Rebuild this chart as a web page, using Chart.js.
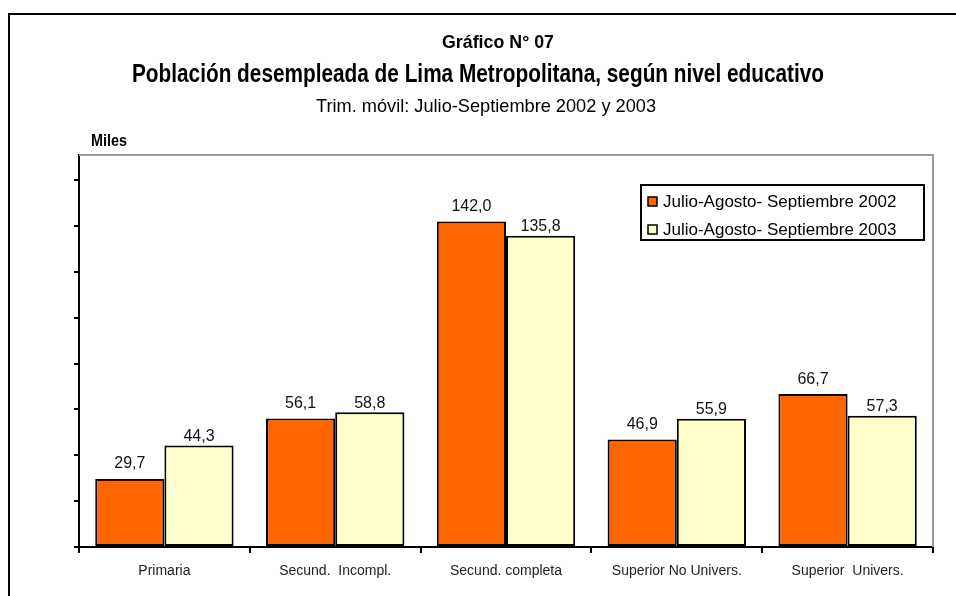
<!DOCTYPE html>
<html>
<head>
<meta charset="utf-8">
<script src="https://cdn.jsdelivr.net/npm/chart.js@4.4.0/dist/chart.umd.min.js"></script>
<style>
  html, body { margin: 0; padding: 0; background: #fff; }
  #wrap { width: 956px; height: 596px; position: relative; }
</style>
</head>
<body>
<div id="wrap"><canvas id="myChart" width="956" height="596"></canvas></div>
<script>
const categories = ["Primaria", "Secund.  Incompl.", "Secund. completa", "Superior No Univers.", "Superior  Univers."];
const values2002 = [29.7, 56.1, 142.0, 46.9, 66.7];
const values2003 = [44.3, 58.8, 135.8, 55.9, 57.3];
const seriesNames = ["Julio-Agosto- Septiembre 2002", "Julio-Agosto- Septiembre 2003"];
const yTicks = [0, 20, 40, 60, 80, 100, 120, 140, 160];

const arial = '"Liberation Sans", Arial, sans-serif';

// no Arial Narrow here, so squeeze Liberation Sans to the width it had
function narrowText(ctx, text, cx, baseline, font, width) {
  ctx.save();
  ctx.font = font;
  const w = ctx.measureText(text).width;
  ctx.translate(cx, baseline);
  ctx.scale(width / w, 1);
  ctx.textAlign = "center";
  ctx.textBaseline = "alphabetic";
  ctx.fillText(text, 0, 0);
  ctx.restore();
}

// frame, titles and plot border
const decorations = {
  id: "decorations",
  beforeDraw(chart) {
    const ctx = chart.ctx;
    ctx.save();
    ctx.strokeStyle = "#000";
    ctx.lineWidth = 2;
    ctx.beginPath();
    ctx.moveTo(9, 600);
    ctx.lineTo(9, 14);
    ctx.lineTo(960, 14);
    ctx.stroke();

    ctx.fillStyle = "#000";
    narrowText(ctx, "Gráfico N° 07", 498, 48, "bold 19px " + arial, 112);
    narrowText(ctx, "Población desempleada de Lima Metropolitana, según nivel educativo", 478, 82, "bold 25px " + arial, 692);
    narrowText(ctx, "Trim. móvil: Julio-Septiembre 2002 y 2003", 486, 112, "19px " + arial, 340);
    narrowText(ctx, "Miles", 109, 146, "bold 16px " + arial, 36);
    ctx.restore();
  },
  beforeDatasetsDraw(chart) {
    const { ctx, chartArea } = chart;
    ctx.save();
    ctx.strokeStyle = "#999";
    ctx.lineWidth = 2;
    ctx.beginPath();
    ctx.moveTo(chartArea.left, chartArea.top);
    ctx.lineTo(chartArea.right, chartArea.top);
    ctx.lineTo(chartArea.right, chartArea.bottom);
    ctx.stroke();
    ctx.restore();
  },
};

// value labels above bars, legend box
const labelOffsets = [15, 9];
const extras = {
  id: "extras",
  afterDatasetsDraw(chart) {
    const ctx = chart.ctx;
    ctx.save();
    ctx.fillStyle = "#111";
    ctx.font = "16px " + arial;
    ctx.textAlign = "center";
    ctx.textBaseline = "middle";
    chart.data.datasets.forEach((ds, i) => {
      chart.getDatasetMeta(i).data.forEach((bar, j) => {
        ctx.fillText(ds.data[j].toFixed(1).replace(".", ","), bar.x, bar.y - labelOffsets[i]);
      });
    });

    const ca = chart.chartArea;
    const x1 = ca.right - 292, x2 = ca.right - 9;
    const y1 = ca.top + 30, y2 = ca.top + 85;
    ctx.fillStyle = "#fff";
    ctx.fillRect(x1, y1, x2 - x1, y2 - y1);
    ctx.strokeStyle = "#000";
    ctx.lineWidth = 2;
    ctx.strokeRect(x1, y1, x2 - x1, y2 - y1);
    ctx.font = "17px " + arial;
    ctx.textAlign = "left";
    chart.data.datasets.forEach((ds, i) => {
      const cy = y1 + 17 + i * 28;
      ctx.fillStyle = ds.backgroundColor;
      ctx.fillRect(x1 + 7, cy - 5, 9, 9);
      ctx.lineWidth = 1.5;
      ctx.strokeRect(x1 + 7, cy - 5, 9, 9);
      ctx.fillStyle = "#000";
      ctx.fillText(ds.label, x1 + 22, cy);
    });
    ctx.restore();
  },
};

const ctx = document.getElementById("myChart").getContext("2d");
const myChart = new Chart(ctx, {
  type: "bar",
  data: {
    labels: categories,
    datasets: [
      {
        label: seriesNames[0],
        data: values2002,
        backgroundColor: "#FF6600",
        borderColor: "#000",
        borderWidth: 2,
        borderSkipped: false,
      },
      {
        label: seriesNames[1],
        data: values2003,
        backgroundColor: "#FFFFCC",
        borderColor: "#000",
        borderWidth: 2,
        borderSkipped: false,
      },
    ],
  },
  options: {
    responsive: false,
    animation: false,
    devicePixelRatio: 1,
    categoryPercentage: 0.81,
    barPercentage: 1.0,
    layout: { padding: { top: 155, right: 23, left: 0, bottom: 0 } },
    plugins: {
      legend: { display: false },
      title: { display: false },
      tooltip: { enabled: false },
    },
    scales: {
      x: {
        grid: { offset: true, drawOnChartArea: false, tickLength: 6, color: "#000", lineWidth: 2 },
        border: { color: "#000", width: 2 },
        ticks: { color: "#222", font: { family: arial, size: 14 }, padding: 10 },
        afterFit: (scale) => { scale.height = 49; },
      },
      y: {
        min: 0,
        max: 171,
        grid: { drawOnChartArea: false, tickLength: 5, color: "#000", lineWidth: 2 },
        border: { color: "#000", width: 2 },
        ticks: { display: false, stepSize: 20 },
        afterBuildTicks: (scale) => {
          scale.ticks = yTicks.map((v) => ({ value: v }));
        },
        afterFit: (scale) => { scale.width = 79; },
      },
    },
  },
  plugins: [decorations, extras],
});
</script>
</body>
</html>
